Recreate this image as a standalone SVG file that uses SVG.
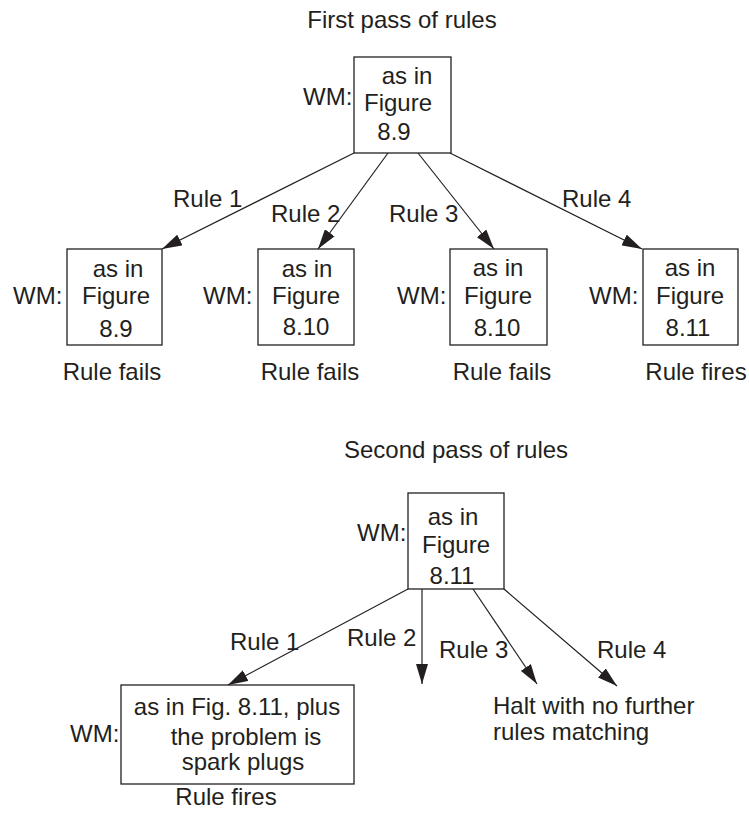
<svg xmlns="http://www.w3.org/2000/svg" width="749" height="817" viewBox="0 0 749 817">
<style>
text { font-family: "Liberation Sans", Arial, sans-serif; font-size: 24px; fill: #231f20; }
.c { text-anchor: middle; }
.box { fill: #fff; stroke: #231f20; stroke-width: 1.3; }
.edge { stroke: #231f20; stroke-width: 1.2; fill: none; marker-end: url(#ah); }
</style>
<defs>
<marker id="ah" markerUnits="userSpaceOnUse" markerWidth="20" markerHeight="12" refX="20" refY="6" orient="auto">
<path d="M0,0 L20,6 L0,12 z" fill="#231f20"/>
</marker>
</defs>
<rect width="749" height="817" fill="#fff"/>

<text class="c" x="402" y="28">First pass of rules</text>
<text class="c" x="456" y="458">Second pass of rules</text>

<g id="connectors">
<line class="edge" x1="354" y1="153" x2="162" y2="249"/>
<line class="edge" x1="388" y1="153" x2="318" y2="249"/>
<line class="edge" x1="418" y1="153" x2="494" y2="249"/>
<line class="edge" x1="450" y1="153" x2="642" y2="249"/>
<line class="edge" x1="408" y1="589" x2="228" y2="685"/>
<line class="edge" x1="422" y1="589" x2="422" y2="684"/>
<line class="edge" x1="473" y1="589" x2="537" y2="684"/>
<line class="edge" x1="504" y1="589" x2="617" y2="686"/>
<text x="173" y="207">Rule 1</text>
<text x="271" y="222">Rule 2</text>
<text x="389" y="222">Rule 3</text>
<text x="562" y="207">Rule 4</text>
<text x="230" y="650">Rule 1</text>
<text x="347" y="646">Rule 2</text>
<text x="439" y="658">Rule 3</text>
<text x="597" y="658">Rule 4</text>
</g>

<g id="top1">
<rect class="box" x="354" y="57" width="97" height="96"/>
<text x="303" y="105">WM:</text>
<text class="c" x="407" y="84">as in</text>
<text class="c" x="398" y="111">Figure</text>
<text class="c" x="394" y="140">8.9</text>
</g>

<g id="r1">
<rect class="box" x="67" y="249" width="95" height="96"/>
<text x="13" y="304">WM:</text>
<text class="c" x="118" y="277">as in</text>
<text class="c" x="116" y="304">Figure</text>
<text class="c" x="116" y="337">8.9</text>
<text class="c" x="112" y="380">Rule fails</text>
</g>

<g id="r2">
<rect class="box" x="258" y="249" width="96" height="96"/>
<text x="203" y="304">WM:</text>
<text class="c" x="307" y="277">as in</text>
<text class="c" x="306" y="304">Figure</text>
<text class="c" x="306" y="335">8.10</text>
<text class="c" x="310" y="380">Rule fails</text>
</g>

<g id="r3">
<rect class="box" x="450" y="249" width="97" height="96"/>
<text x="397" y="304">WM:</text>
<text class="c" x="498" y="276">as in</text>
<text class="c" x="498" y="304">Figure</text>
<text class="c" x="497" y="336">8.10</text>
<text class="c" x="502" y="380">Rule fails</text>
</g>

<g id="r4">
<rect class="box" x="643" y="249" width="95" height="96"/>
<text x="589" y="304">WM:</text>
<text class="c" x="690" y="276">as in</text>
<text class="c" x="690" y="304">Figure</text>
<text class="c" x="688" y="336">8.11</text>
<text class="c" x="696" y="380">Rule fires</text>
</g>

<g id="top2">
<rect class="box" x="408" y="493" width="96" height="96"/>
<text x="357" y="541">WM:</text>
<text class="c" x="453" y="525">as in</text>
<text class="c" x="456" y="553">Figure</text>
<text class="c" x="452" y="584">8.11</text>
</g>

<g id="s1">
<rect class="box" x="121" y="685" width="233" height="99"/>
<text x="70" y="742">WM:</text>
<text class="c" x="237" y="715">as in Fig. 8.11, plus</text>
<text class="c" x="246" y="745">the problem is</text>
<text class="c" x="243" y="770">spark plugs</text>
<text class="c" x="226" y="805">Rule fires</text>
</g>

<g id="halt">
<text x="493" y="714">Halt with no further</text>
<text x="493" y="740">rules matching</text>
</g>
</svg>
